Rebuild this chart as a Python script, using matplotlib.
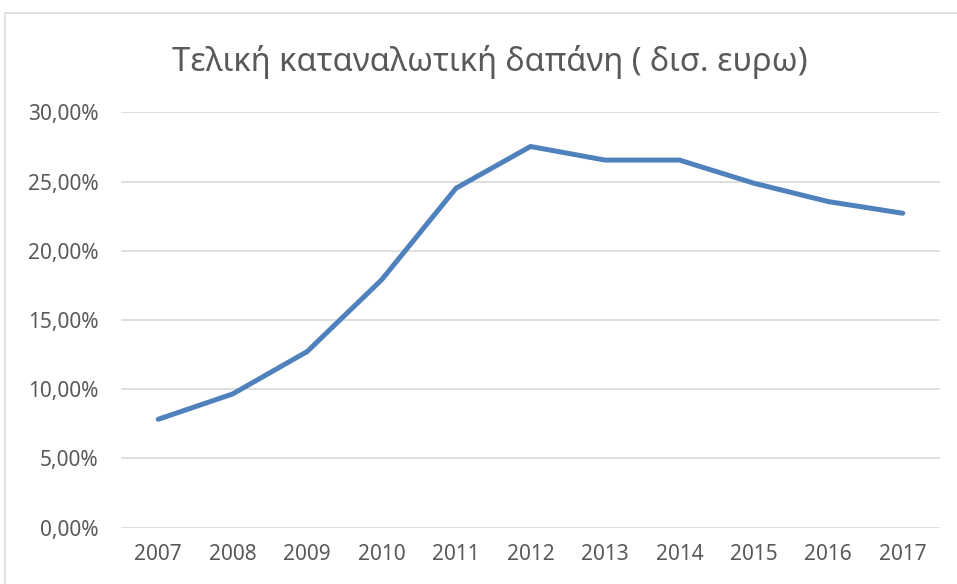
import matplotlib.pyplot as plt
from matplotlib.patches import Rectangle
from matplotlib.ticker import FuncFormatter

plt.rcParams["font.family"] = ["Noto Sans", "DejaVu Sans"]

years = ["2007", "2008", "2009", "2010", "2011", "2012",
         "2013", "2014", "2015", "2016", "2017"]
values = [0.0783, 0.0966, 0.1272, 0.1790, 0.2452, 0.2753,
          0.2655, 0.2655, 0.2488, 0.2355, 0.2271]
title = "Τελική καταναλωτική δαπάνη ( δισ. ευρω)"

text_color = "#595959"
grid_color = "#d9d9d9"
line_color = "#4f81bd"

fig = plt.figure(figsize=(9.57, 5.84), dpi=100)
ax = fig.add_axes([121 / 957, 56.3 / 584, 819 / 957, 415.4 / 584])

# chart border (only top and left edges are visible in the crop)
fig.patches.append(Rectangle((5 / 957, -0.1), 1.2, 1.1 - 13 / 584,
                             transform=fig.transFigure, fill=False,
                             edgecolor=grid_color, linewidth=1.2))

x = list(range(len(years)))
ax.plot(x, values, color=line_color, linewidth=3.6,
        solid_capstyle="round", solid_joinstyle="round", zorder=3)

ax.set_xlim(-0.5, len(years) - 0.5)
ax.set_ylim(0, 0.30)
ax.set_yticks([0, 0.05, 0.10, 0.15, 0.20, 0.25, 0.30])
ax.yaxis.set_major_formatter(
    FuncFormatter(lambda v, _: f"{v * 100:.2f}%".replace(".", ",")))
ax.set_xticks(x)
ax.set_xticklabels(years)

ax.grid(axis="y", color=grid_color, linewidth=1.2)
ax.set_axisbelow(True)
for spine in ax.spines.values():
    spine.set_visible(False)
ax.tick_params(axis="both", length=0, labelsize=15, labelcolor=text_color)
ax.tick_params(axis="y", pad=16)
ax.tick_params(axis="x", pad=12)

fig.text(490 / 957, 1 - 62 / 584, title, ha="center", va="center",
         fontsize=23.5, color=text_color)

fig.savefig("out.png", dpi=100)
